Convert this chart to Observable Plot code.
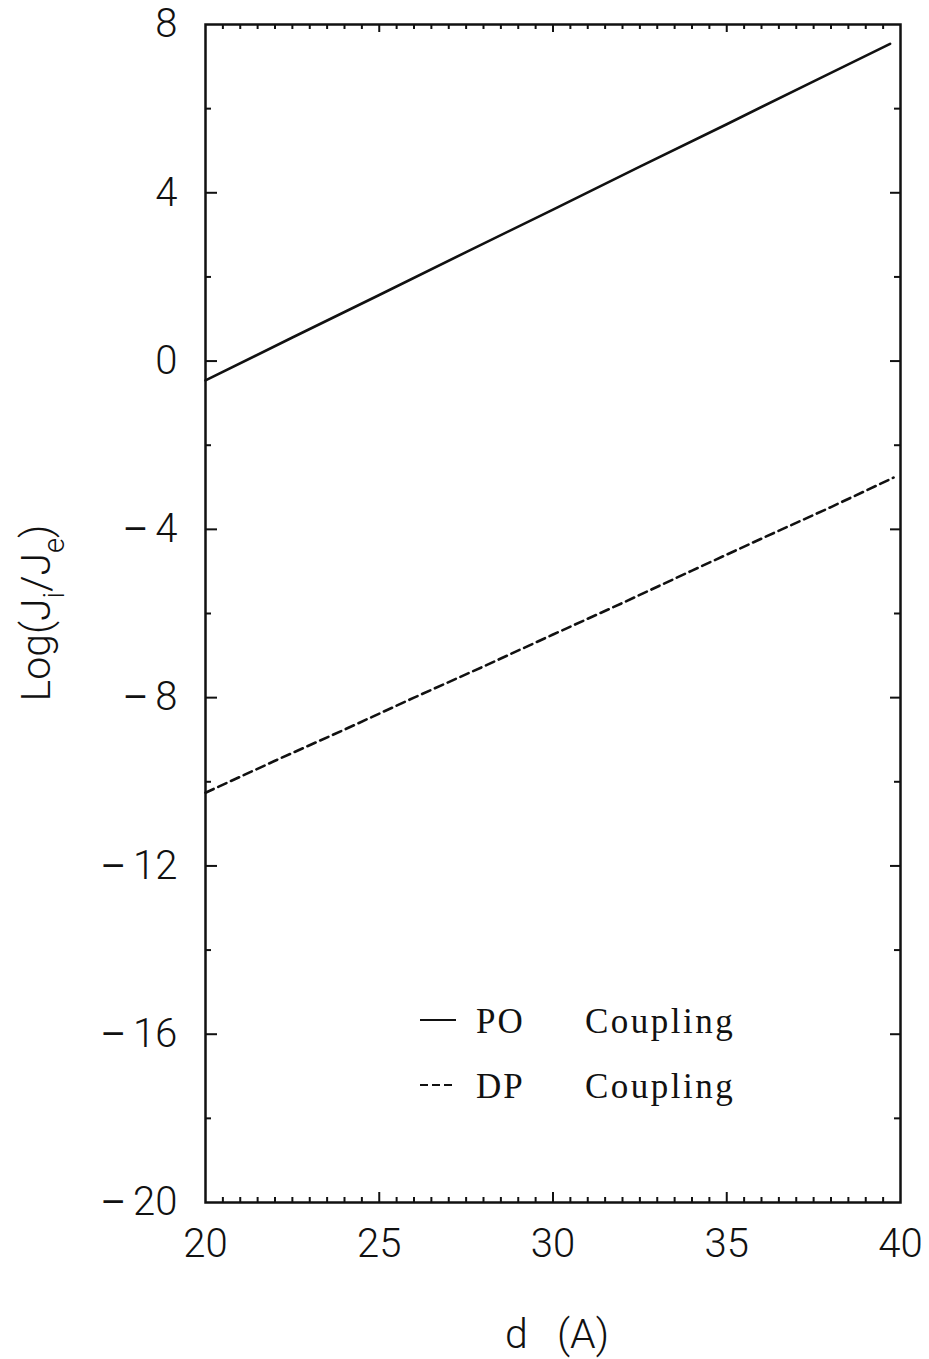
<!DOCTYPE html>
<html>
<head>
<meta charset="utf-8">
<script src="https://cdn.jsdelivr.net/npm/d3@7"></script>
<script src="https://cdn.jsdelivr.net/npm/@observablehq/plot@0.6"></script>
<style>
  html, body { margin: 0; padding: 0; background: #fff; }
  #chart svg { display: block; }
</style>
</head>
<body>
<div id="chart"></div>
<script>
// ---- data ----
const dPO = [20, 22.5, 25, 27.5, 30, 32.5, 35, 37.5, 39.7];
const logPO = [-0.46, 0.56, 1.57, 2.59, 3.6, 4.62, 5.63, 6.65, 7.54];

const dDP = [20, 22, 24, 26, 28, 30, 32, 34, 36, 38, 39.8];
const logDP = [-10.26, -9.5, -8.76, -8.0, -7.26, -6.5, -5.75, -4.98, -4.22, -3.47, -2.77];

const xTickLabels = [20, 25, 30, 35, 40];
const yTickLabels = [8, 4, 0, -4, -8, -12, -16, -20];

const legendNames = ["PO", "DP"];
const legendWord = "Coupling";

// ---- build tables ----
const po = dPO.map((d, i) => ({d, v: logPO[i]}));
const dp = dDP.map((d, i) => ({d, v: logDP[i]}));

const xMinor = d3.range(20.5, 40, 0.5).filter(v => v % 5 !== 0);
const xMajorInner = xTickLabels.filter(v => v > 20 && v < 40);
const yMinor = d3.range(-18, 8, 2).filter(v => v % 4 !== 0);
const yMajorInner = yTickLabels.filter(v => v > -20 && v < 8);

const W = 929, H = 1359, mL = 205, mR = 29, mT = 24, mB = 157;
const iW = W - mL - mR, iH = H - mT - mB;

const fmtY = v => v < 0 ? "\u2212\u2009" + (-v) : String(v);
const sansFont = "Roboto, 'Liberation Sans', Arial, sans-serif";

const plot = Plot.plot({
  width: W, height: H,
  marginLeft: mL, marginRight: mR, marginTop: mT, marginBottom: mB,
  style: {fontFamily: sansFont, fontWeight: 300, background: "#fff", color: "#111"},
  x: {domain: [20, 40]},
  y: {domain: [-20, 8]},
  marks: [
    // inward ticks: bottom / top
    Plot.tickX(xMinor, {x: d => d, insetTop: iH - 5, stroke: "#111", strokeWidth: 2}),
    Plot.tickX(xMajorInner, {x: d => d, insetTop: iH - 10, stroke: "#111", strokeWidth: 2}),
    Plot.tickX(xMinor, {x: d => d, insetBottom: iH - 5, stroke: "#111", strokeWidth: 2}),
    Plot.tickX(xMajorInner, {x: d => d, insetBottom: iH - 8, stroke: "#111", strokeWidth: 2}),
    // inward ticks: left / right
    Plot.tickY(yMinor, {y: d => d, insetRight: iW - 6, stroke: "#111", strokeWidth: 2}),
    Plot.tickY(yMajorInner, {y: d => d, insetRight: iW - 12, stroke: "#111", strokeWidth: 2}),
    Plot.tickY(yMinor, {y: d => d, insetLeft: iW - 6, stroke: "#111", strokeWidth: 2}),
    Plot.tickY(yMajorInner, {y: d => d, insetLeft: iW - 10, stroke: "#111", strokeWidth: 2}),
    Plot.frame({stroke: "#111", strokeWidth: 2.5}),
    Plot.axisX({ticks: xTickLabels, tickSize: 0, tickPadding: 26, fontSize: 40, tickFormat: d => String(d), label: null}),
    Plot.axisY({ticks: yTickLabels, tickSize: 0, tickPadding: 28, fontSize: 40, tickFormat: fmtY, label: null}),
    Plot.line(po, {x: "d", y: "v", stroke: "#111", strokeWidth: 2.6}),
    Plot.line(dp, {x: "d", y: "v", stroke: "#111", strokeWidth: 2.6, strokeDasharray: "9,5"}),
    // x axis title
    Plot.text(["d\u2002\u2009(A)"], {frameAnchor: "bottom", dx: 4, dy: 145, fontSize: 41, fill: "#111", text: d => d})
  ]
});

document.getElementById("chart").appendChild(plot);

const svg = d3.select(plot);

// give the minus sign of negative y tick labels a longer glyph
svg.selectAll("text").each(function () {
  const t = this.textContent;
  if (t.startsWith("\u2212\u2009")) {
    const sel = d3.select(this);
    const rest = t.slice(2);
    sel.text(null);
    sel.append("tspan").attr("font-family", "'Liberation Sans', Arial, sans-serif").attr("font-weight", 400).text("\u2212");
    sel.append("tspan").text("\u2009" + rest);
  }
});

// ---- y-axis title with subscripts, and legend ----
const yl = svg.append("text")
  .attr("transform", "translate(50,613) rotate(-90)")
  .attr("text-anchor", "middle")
  .attr("font-family", sansFont)
  .attr("font-weight", 300)
  .attr("font-size", 41)
  .attr("fill", "#111");
yl.append("tspan").text("Log(J");
yl.append("tspan").attr("font-size", 29).attr("dy", 14).text("i");
yl.append("tspan").attr("dy", -14).text("/J");
yl.append("tspan").attr("font-size", 29).attr("dy", 14).text("e");
yl.append("tspan").attr("dy", -14).text(")");

const legRows = [{y: 1020, base: 1033, dash: null}, {y: 1085, base: 1098, dash: "8,4"}];
legRows.forEach((r, i) => {
  svg.append("line")
    .attr("x1", 420).attr("x2", 456).attr("y1", r.y).attr("y2", r.y)
    .attr("stroke", "#111").attr("stroke-width", 2)
    .attr("stroke-dasharray", r.dash);
  svg.append("text")
    .attr("x", 476).attr("y", r.base)
    .attr("text-anchor", "start")
    .attr("font-family", "'Liberation Serif', 'Times New Roman', serif")
    .attr("font-size", 35).attr("fill", "#111")
    .attr("letter-spacing", 2)
    .text(legendNames[i]);
  svg.append("text")
    .attr("x", 585).attr("y", r.base)
    .attr("text-anchor", "start")
    .attr("font-family", "'Liberation Serif', 'Times New Roman', serif")
    .attr("font-size", 35).attr("fill", "#111")
    .attr("letter-spacing", 2.5)
    .text(legendWord);
});
</script>
</body>
</html>
